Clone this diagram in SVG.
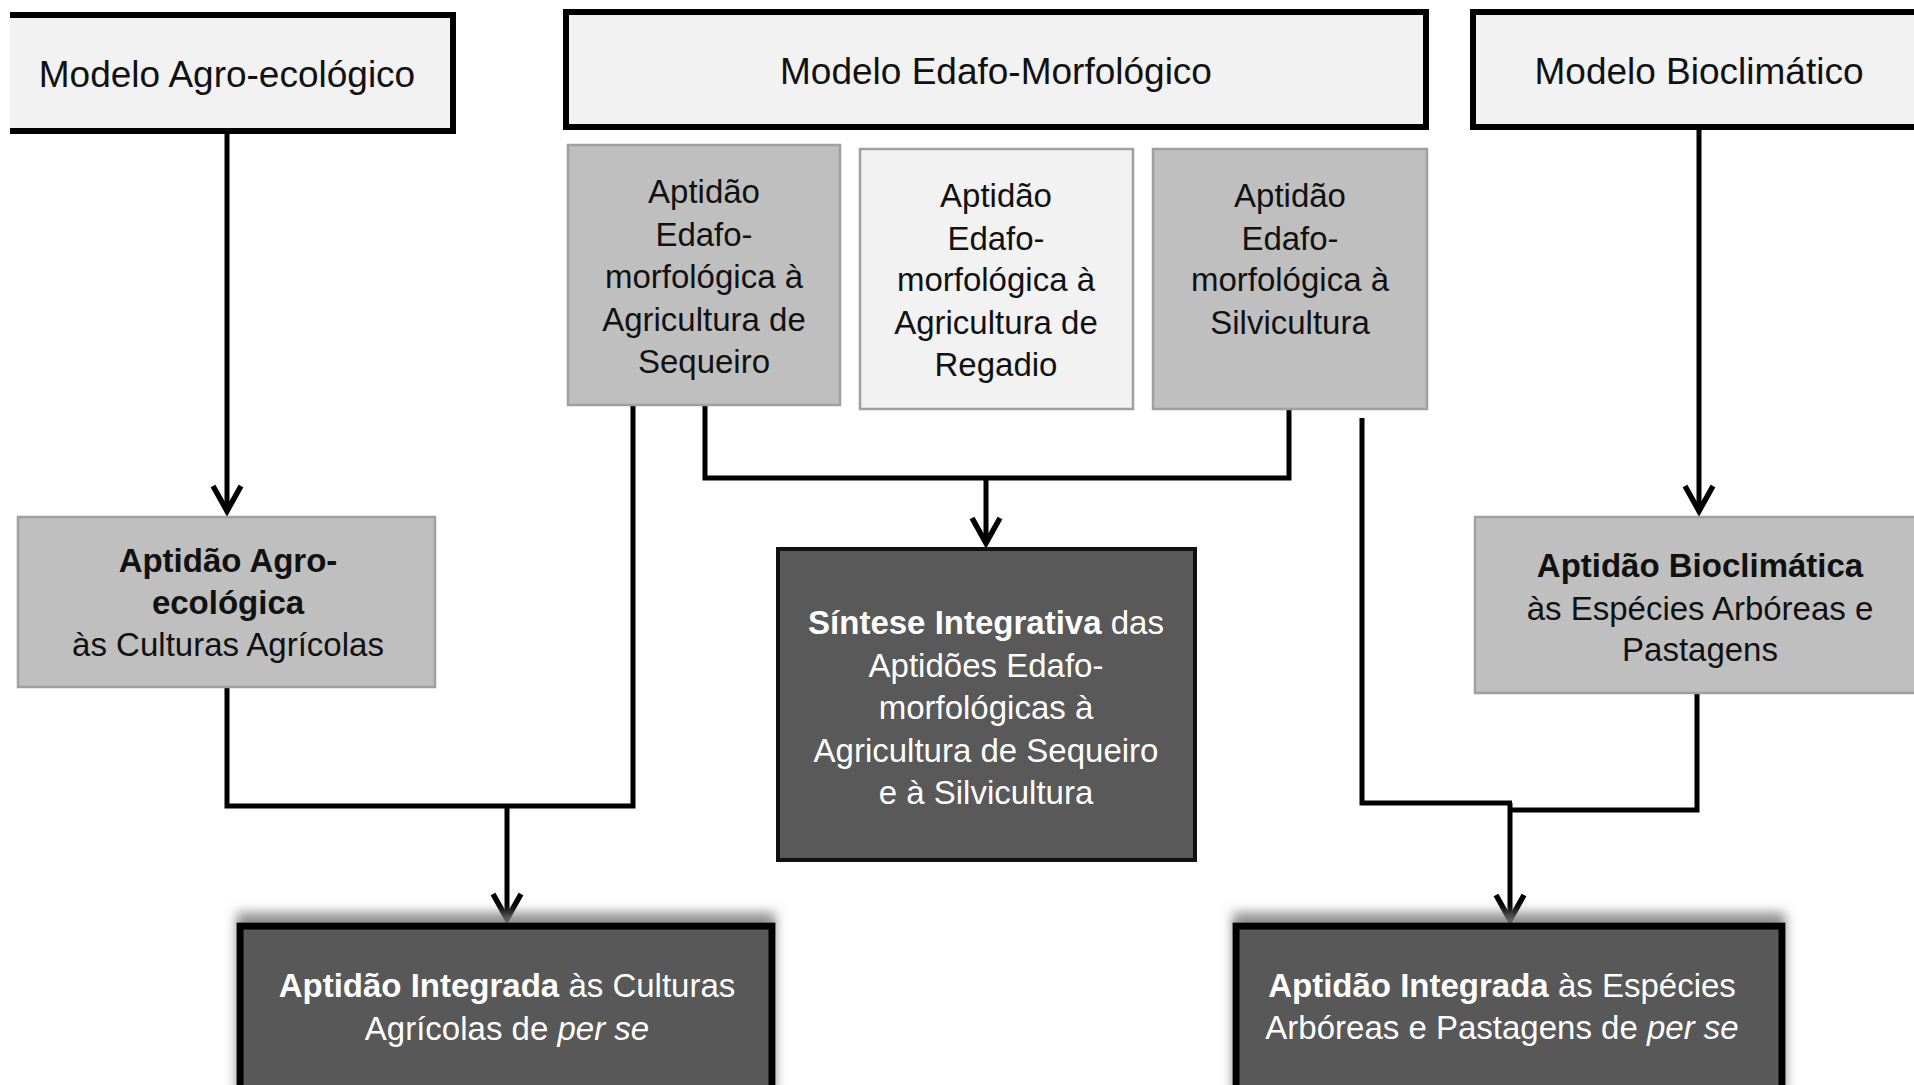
<svg xmlns="http://www.w3.org/2000/svg" width="1914" height="1085" viewBox="0 0 1914 1085">
<defs>
<style>
text{font-family:'Liberation Sans',Arial,sans-serif;}
.t{font-size:37px;fill:#111;text-anchor:middle}
.s{font-size:33px;fill:#111;text-anchor:middle}
.w{font-size:33px;fill:#fff;text-anchor:middle}
.b{font-weight:bold}
.i{font-style:italic}
.top{fill:#f2f2f2;stroke:#000;stroke-width:6}
.gray{fill:#bfbfbf;stroke:#a0a0a0;stroke-width:2.5}
.light{fill:#f2f2f2;stroke:#a0a0a0;stroke-width:2.5}
.dark{fill:#595959;stroke:#111;stroke-width:4}
.dark2{fill:#595959;stroke:#000;stroke-width:7}
.c{fill:none;stroke:#000;stroke-width:5;stroke-linejoin:miter}
.a{fill:none;stroke:#000;stroke-width:5;marker-end:url(#ah)}
</style>
<marker id="ah" markerUnits="userSpaceOnUse" markerWidth="40" markerHeight="40" viewBox="-30 -20 40 40" refX="0" refY="0" orient="auto" overflow="visible">
<path d="M-25,-14 L0,0 L-25,14" fill="none" stroke="#000" stroke-width="5.5"/>
</marker>
<filter id="sh" x="-10%" y="-30%" width="120%" height="160%">
<feGaussianBlur in="SourceAlpha" stdDeviation="6"/>
<feOffset dx="0" dy="-10" result="b"/>
<feFlood flood-color="#7a7a7a" flood-opacity="0.85"/>
<feComposite in2="b" operator="in"/>
<feMerge><feMergeNode/><feMergeNode in="SourceGraphic"/></feMerge>
</filter>
</defs>
<rect width="1914" height="1085" fill="#fff"/>

<g id="connectors">
<path class="a" d="M227,131 L227,511"/>
<path class="c" d="M227,687 L227,806 L633,806 L633,395"/>
<path class="a" d="M507,806 L507,919"/>
<path class="c" d="M705,405 L705,478 L1289,478 L1289,409"/>
<path class="a" d="M986,478 L986,543"/>
<path class="a" d="M1699,127 L1699,511"/>
<path class="c" d="M1362,418 L1362,803 L1512,803"/>
<path class="c" d="M1697,693 L1697,810 L1510,810"/>
<path class="a" d="M1510,803 L1510,920"/>
</g>

<g id="modelo-agro">
<rect x="10" y="15" width="443" height="116" fill="#f2f2f2"/>
<path d="M10,15 L453,15 L453,131 L10,131" fill="none" stroke="#000" stroke-width="6"/>
<text class="t" x="227" y="87">Modelo Agro-ecológico</text>
</g>

<g id="modelo-edafo">
<rect class="top" x="566" y="12" width="860" height="115"/>
<text class="t" x="996" y="84">Modelo Edafo-Morfológico</text>
</g>

<g id="modelo-bio">
<rect class="top" x="1473" y="12" width="460" height="115"/>
<text class="t" x="1699" y="84">Modelo Bioclimático</text>
</g>

<g id="apt-sequeiro">
<rect class="gray" x="568" y="145" width="272" height="260"/>
<text class="s" x="704" y="203">Aptidão</text>
<text class="s" x="704" y="246">Edafo-</text>
<text class="s" x="704" y="288">morfológica à</text>
<text class="s" x="704" y="331">Agricultura de</text>
<text class="s" x="704" y="373">Sequeiro</text>
</g>

<g id="apt-regadio">
<rect class="light" x="860" y="149" width="273" height="260"/>
<text class="s" x="996" y="207">Aptidão</text>
<text class="s" x="996" y="250">Edafo-</text>
<text class="s" x="996" y="291">morfológica à</text>
<text class="s" x="996" y="334">Agricultura de</text>
<text class="s" x="996" y="376">Regadio</text>
</g>

<g id="apt-silvicultura">
<rect class="gray" x="1153" y="149" width="274" height="260"/>
<text class="s" x="1290" y="207">Aptidão</text>
<text class="s" x="1290" y="250">Edafo-</text>
<text class="s" x="1290" y="291">morfológica à</text>
<text class="s" x="1290" y="334">Silvicultura</text>
</g>

<g id="apt-agro">
<rect class="gray" x="18" y="517" width="417" height="170"/>
<text class="s b" x="228" y="572">Aptidão Agro-</text>
<text class="s b" x="228" y="614">ecológica</text>
<text class="s" x="228" y="656">às Culturas Agrícolas</text>
</g>

<g id="sintese">
<rect class="dark" x="778" y="549" width="417" height="311"/>
<text class="w" x="986" y="634"><tspan class="b">Síntese Integrativa</tspan> das</text>
<text class="w" x="986" y="677">Aptidões Edafo-</text>
<text class="w" x="986" y="719">morfológicas à</text>
<text class="w" x="986" y="762">Agricultura de Sequeiro</text>
<text class="w" x="986" y="804">e à Silvicultura</text>
</g>

<g id="apt-bio">
<rect class="gray" x="1475" y="517" width="460" height="176"/>
<text class="s b" x="1700" y="577">Aptidão Bioclimática</text>
<text class="s" x="1700" y="620">às Espécies Arbóreas e</text>
<text class="s" x="1700" y="661">Pastagens</text>
</g>

<g id="integrada-culturas">
<rect class="dark2" x="240" y="926" width="532" height="200" filter="url(#sh)"/>
<text class="w" x="507" y="997"><tspan class="b">Aptidão Integrada</tspan> às Culturas</text>
<text class="w" x="507" y="1040">Agrícolas de <tspan class="i">per se</tspan></text>
</g>

<g id="integrada-especies">
<rect class="dark2" x="1236" y="926" width="546" height="200" filter="url(#sh)"/>
<text class="w" x="1502" y="997"><tspan class="b">Aptidão Integrada</tspan> às Espécies</text>
<text class="w" x="1502" y="1039">Arbóreas e Pastagens de <tspan class="i">per se</tspan></text>
</g>
</svg>
